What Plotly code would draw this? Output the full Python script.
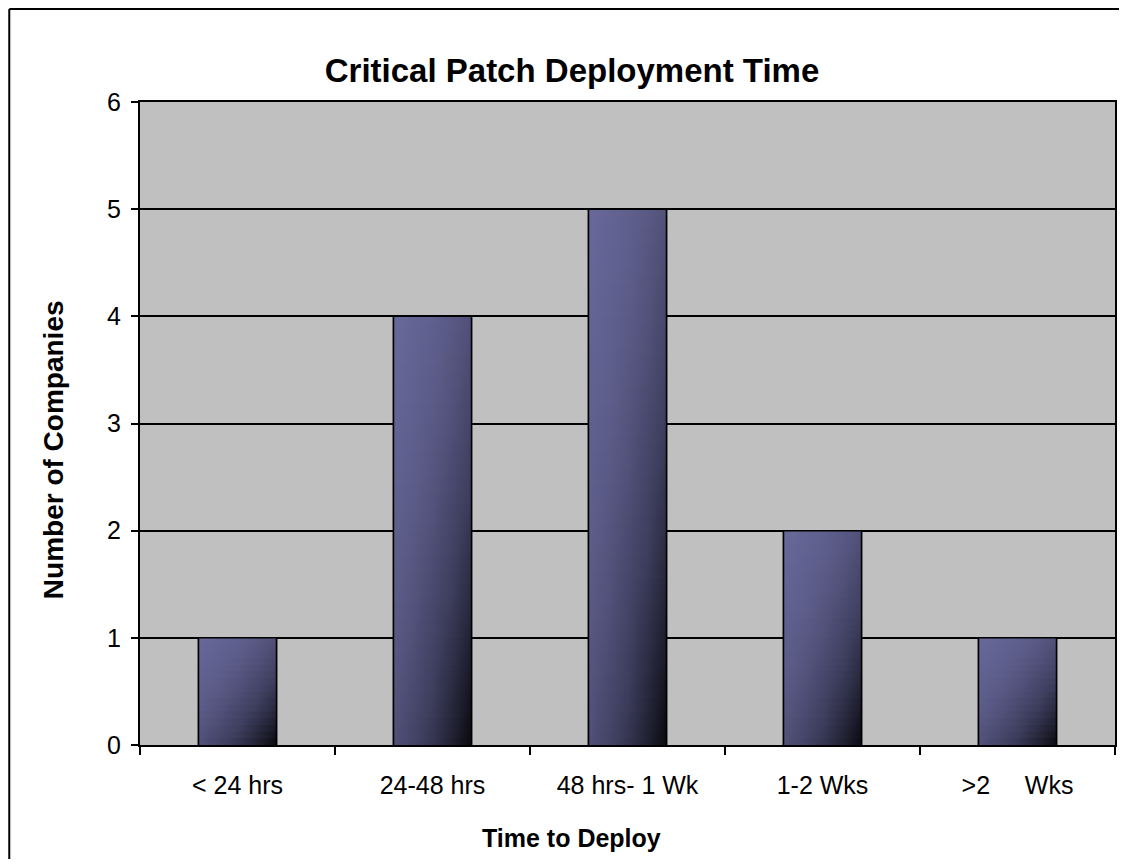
import plotly.graph_objects as go

# ---------------- data ----------------
categories = ["< 24 hrs", "24-48 hrs", "48 hrs- 1 Wk", "1-2 Wks", ">2\u00a0\u00a0\u00a0\u00a0\u00a0Wks"]
companies = [1, 4, 5, 2, 1]
y_tick_values = [0, 1, 2, 3, 4, 5, 6]

title_text = "Critical Patch Deployment Time"
x_title = "Time to Deploy"
y_title = "Number of Companies"

# ---------------- layout geometry (figure pixels; page has an 8px body margin) ----------------
W, H = 1111, 851
ML, MR, MT, MB = 132, 2, 94, 114
PW, PH = W - ML - MR, H - MT - MB
FONT = "Liberation Sans, Arial, sans-serif"
BAR_W = 0.4
STRIPS_PER_UNIT = 16


def px_to_paper_x(px):
    return (px - ML) / PW


def px_to_paper_y(py):
    return (H - MB - py) / PH


# diagonal gradient colour map (top-left light -> bottom-right dark)
grad_stops = [
    (0.00, (104, 104, 154)),
    (0.30, (94, 94, 140)),
    (0.50, (80, 80, 120)),
    (0.70, (60, 60, 92)),
    (0.85, (36, 36, 55)),
    (1.00, (8, 8, 14)),
]


def cmap(t):
    t = max(0.0, min(1.0, t))
    for (t0, c0), (t1, c1) in zip(grad_stops[:-1], grad_stops[1:]):
        if t <= t1:
            f = 0 if t1 == t0 else (t - t0) / (t1 - t0)
            c = [round(a + (b - a) * f) for a, b in zip(c0, c1)]
            return f"rgb({c[0]},{c[1]},{c[2]})"
    c = grad_stops[-1][1]
    return f"rgb({c[0]},{c[1]},{c[2]})"


fig = go.Figure()

# base bars (real bar trace)
fig.add_trace(go.Bar(
    x=categories, y=companies, width=BAR_W,
    marker=dict(color="#4E4E78", line=dict(color="black", width=1.5)),
    name="Companies", showlegend=False,
    xaxis="x", yaxis="y",
))

# gradient shading overlay, derived from the same data
for i, v in enumerate(companies):
    x0, x1 = i - BAR_W / 2, i + BAR_W / 2
    n = max(1, int(round(v * STRIPS_PER_UNIT)))
    for k in range(n):
        vt = k / n
        vb = (k + 1) / n
        y_top = v * (1 - vt)
        y_bot = max(0.0, v * (1 - vb) - 0.4 * v / n)
        vm = (k + 0.5) / n
        us = [0, 0.25, 0.5, 0.75, 1.0]
        cs = [[u, cmap((u + vm) / 2)] for u in us]
        fig.add_trace(go.Scatter(
            x=[x0, x1, x1, x0, x0], y=[y_bot, y_bot, y_top, y_top, y_bot],
            mode="lines", fill="toself", line=dict(width=0, color="rgba(0,0,0,0)"),
            fillgradient=dict(type="horizontal", colorscale=cs, start=x0, stop=x1),
            hoverinfo="skip", showlegend=False, xaxis="x2", yaxis="y",
        ))

# bar outlines on top
ox, oy = [], []
for i, v in enumerate(companies):
    x0, x1 = i - BAR_W / 2, i + BAR_W / 2
    ox += [x0, x0, x1, x1, None]
    oy += [0, v, v, 0, None]
fig.add_trace(go.Scatter(
    x=ox, y=oy, mode="lines", line=dict(color="black", width=1.5),
    hoverinfo="skip", showlegend=False, xaxis="x2", yaxis="y",
))

n_cat = len(categories)
fig.update_layout(
    width=W, height=H,
    margin=dict(l=ML, r=MR, t=MT, b=MB),
    paper_bgcolor="white",
    plot_bgcolor="#C0C0C0",
    font=dict(family=FONT, color="black"),
    title=dict(
        text=title_text, xref="container", yref="container",
        x=564 / W, y=1 - 62 / H, xanchor="center", yanchor="middle",
        font=dict(family=FONT, size=33, color="black", weight="bold"),
    ),
    xaxis=dict(
        type="category", range=[-0.5, n_cat - 0.5],
        tickson="boundaries", ticks="outside", ticklen=8, tickwidth=1.5, tickcolor="black",
        showline=True, linecolor="black", linewidth=2, mirror=True,
        showgrid=False, zeroline=False,
        tickfont=dict(family=FONT, size=25, color="black"),
        ticklabelstandoff=17,
    ),
    xaxis2=dict(
        overlaying="x", range=[-0.5, n_cat - 0.5], visible=False,
        showgrid=False, zeroline=False, fixedrange=True,
    ),
    yaxis=dict(
        range=[0, 6], tickvals=y_tick_values,
        ticks="outside", ticklen=7, tickwidth=1.5, tickcolor="black",
        showline=True, linecolor="black", linewidth=2, mirror=True,
        showgrid=True, gridcolor="black", gridwidth=1.5, zeroline=False,
        tickfont=dict(family=FONT, size=25, color="black"),
        ticklabelstandoff=5,
    ),
    bargap=0.6,
    annotations=[
        dict(text=x_title, xref="paper", yref="paper",
             x=px_to_paper_x(564), y=px_to_paper_y(830),
             xanchor="center", yanchor="middle", showarrow=False,
             font=dict(family=FONT, size=25, color="black", weight="bold")),
        dict(text=y_title, xref="paper", yref="paper", textangle=-90,
             x=px_to_paper_x(45), y=px_to_paper_y(442),
             xanchor="center", yanchor="middle", showarrow=False,
             font=dict(family=FONT, size=28, color="black", weight="bold")),
    ],
    shapes=[
        # outer chart frame: left and top edges (right/bottom lie outside the picture)
        dict(type="line", xref="paper", yref="paper",
             x0=px_to_paper_x(1), x1=px_to_paper_x(1), y0=px_to_paper_y(H + 20), y1=px_to_paper_y(1),
             line=dict(color="black", width=2), layer="below"),
        dict(type="line", xref="paper", yref="paper",
             x0=px_to_paper_x(1), x1=px_to_paper_x(W + 20), y0=px_to_paper_y(1), y1=px_to_paper_y(1),
             line=dict(color="black", width=2), layer="below"),
    ],
    showlegend=False,
)

fig.write_html("out.html")
